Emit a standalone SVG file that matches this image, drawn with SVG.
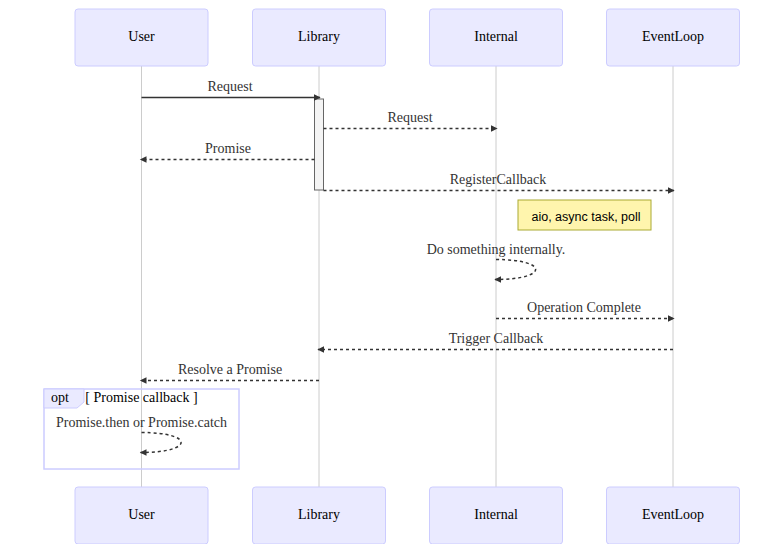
<svg xmlns="http://www.w3.org/2000/svg" width="784" height="544" viewBox="0 0 784 544">
<defs>
<style>
.actor{fill:#eaeaff;stroke:#ccccff;stroke-width:1}
.atext{font-family:"Liberation Serif",serif;font-size:14px;fill:#000;text-anchor:middle;dominant-baseline:central}
.life{stroke:#cccccc;stroke-width:1}
.msg{stroke:#333;stroke-width:1.5;fill:none}
.dash{stroke-dasharray:3,3}
.mtext{font-family:"Liberation Serif",serif;font-size:14px;fill:#333;text-anchor:middle}
.act{fill:#f4f4f4;stroke:#666;stroke-width:1}
</style>
<marker id="arrow" viewBox="0 0 12 10" refX="9" refY="5" markerWidth="8" markerHeight="7" markerUnits="userSpaceOnUse" orient="auto">
<path d="M0,0 L10,5 L0,10 z" fill="#333"/>
</marker>
</defs>
<rect width="784" height="544" fill="#fff"/>
<g id="lifelines">
<line class="life" x1="141.5" y1="66" x2="141.5" y2="487"/>
<line class="life" x1="319" y1="66" x2="319" y2="487"/>
<line class="life" x1="496" y1="66" x2="496" y2="487"/>
<line class="life" x1="673" y1="66" x2="673" y2="487"/>
</g>
<g id="actor-user-top"><rect class="actor" x="75" y="9" width="133" height="57" rx="3"/><text class="atext" x="141.5" y="36">User</text></g>
<g id="actor-library-top"><rect class="actor" x="252.5" y="9" width="133" height="57" rx="3"/><text class="atext" x="319" y="36">Library</text></g>
<g id="actor-internal-top"><rect class="actor" x="429.5" y="9" width="133" height="57" rx="3"/><text class="atext" x="496" y="36">Internal</text></g>
<g id="actor-eventloop-top"><rect class="actor" x="606.5" y="9" width="133" height="57" rx="3"/><text class="atext" x="673" y="36">EventLoop</text></g>
<g id="actor-user-bottom"><rect class="actor" x="75" y="487" width="133" height="57" rx="3"/><text class="atext" x="141.5" y="514">User</text></g>
<g id="actor-library-bottom"><rect class="actor" x="252.5" y="487" width="133" height="57" rx="3"/><text class="atext" x="319" y="514">Library</text></g>
<g id="actor-internal-bottom"><rect class="actor" x="429.5" y="487" width="133" height="57" rx="3"/><text class="atext" x="496" y="514">Internal</text></g>
<g id="actor-eventloop-bottom"><rect class="actor" x="606.5" y="487" width="133" height="57" rx="3"/><text class="atext" x="673" y="514">EventLoop</text></g>
<g id="activation"><rect class="act" x="314.5" y="99" width="9" height="91"/></g>
<g id="note"><rect x="518" y="200" width="133" height="30" fill="#fff5ad" stroke="#aaaa33" stroke-width="1"/><text x="586" y="221" font-family="'Liberation Sans',Arial,sans-serif" font-size="12.5" fill="#000" text-anchor="middle">aio, async task, poll</text></g>
<g id="opt-frame">
<rect x="44" y="389" width="195" height="80" fill="none" stroke="#ccccff" stroke-width="1.5"/>
<polygon points="44,389 84,389 84,402 77,408 44,408" fill="#eaeaff" stroke="#ccccff" stroke-width="1"/>
<text x="60" y="402" font-family="'Liberation Serif',serif" font-size="14" fill="#000" text-anchor="middle">opt</text>
<text x="141.5" y="402" font-family="'Liberation Serif',serif" font-size="14" fill="#000" text-anchor="middle">[ Promise callback ]</text>
</g>
<g id="connectors">
<text class="mtext" x="230" y="91">Request</text>
<line class="msg" x1="141.5" y1="97.5" x2="320" y2="97.5" marker-end="url(#arrow)"/>
<text class="mtext" x="410" y="122">Request</text>
<line class="msg dash" x1="323.5" y1="128.5" x2="497" y2="128.5" marker-end="url(#arrow)"/>
<text class="mtext" x="228" y="153">Promise</text>
<line class="msg dash" x1="314.5" y1="159.5" x2="140.5" y2="159.5" marker-end="url(#arrow)"/>
<text class="mtext" x="498" y="184">RegisterCallback</text>
<line class="msg dash" x1="323.5" y1="190.5" x2="674" y2="190.5" marker-end="url(#arrow)"/>
<text class="mtext" x="496" y="254">Do something internally.</text>
<path class="msg dash" d="M496,259.5 C549,259.5 549,279.5 495,279.5" marker-end="url(#arrow)"/>
<text class="mtext" x="584" y="312">Operation Complete</text>
<line class="msg dash" x1="496" y1="318.5" x2="674" y2="318.5" marker-end="url(#arrow)"/>
<text class="mtext" x="496" y="343">Trigger Callback</text>
<line class="msg dash" x1="673" y1="349.5" x2="318" y2="349.5" marker-end="url(#arrow)"/>
<text class="mtext" x="230" y="374">Resolve a Promise</text>
<line class="msg dash" x1="319" y1="380.5" x2="140.5" y2="380.5" marker-end="url(#arrow)"/>
<text class="mtext" x="141.5" y="427">Promise.then or Promise.catch</text>
<path class="msg dash" d="M141.5,432.5 C194.5,432.5 194.5,452.5 140.5,452.5" marker-end="url(#arrow)"/>
</g>
</svg>
